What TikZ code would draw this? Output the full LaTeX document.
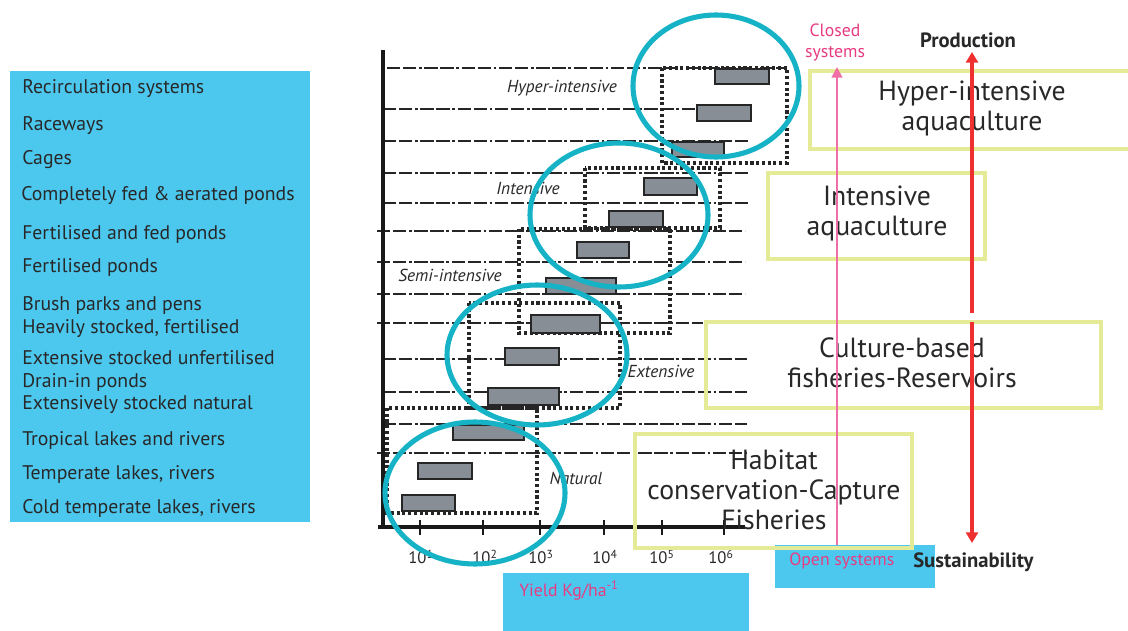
\documentclass[tikz,border=0pt]{standalone}
\usepackage{fontspec}
\setmainfont{PT Sans}
\usetikzlibrary{arrows.meta}
\definecolor{skyb}{RGB}{76,200,239}
\definecolor{cyanring}{RGB}{22,178,198}
\definecolor{ybox}{RGB}{228,234,150}
\definecolor{pinkt}{RGB}{232,60,130}
\definecolor{pinkl}{RGB}{240,110,165}
\definecolor{redar}{RGB}{238,48,48}
\definecolor{barg}{RGB}{135,142,150}
\definecolor{txt}{RGB}{40,40,40}
\begin{document}
\begin{tikzpicture}[x=0.75pt,y=-0.75pt,
  listtext/.style={anchor=west,text=txt,inner sep=0pt,yshift=-1.5pt,font=\fontsize{14.8}{16}\selectfont},
  gridline/.style={draw=black!85,line width=1.2pt,dash pattern=on 10pt off 2pt on 10pt off 2pt on 2pt off 2pt},
  gridthick/.style={gridline,line width=2pt},
  dotbox/.style={draw=black!85,line width=2.3pt,dash pattern=on 2.3pt off 2pt},
  barbox/.style={fill=barg,draw=black!85,line width=1.3pt},
  ring/.style={draw=cyanring,line width=3.8pt},
  ybx/.style={draw=ybox,line width=3pt},
  bigtext/.style={text=txt,align=center,inner sep=0pt,font=\fontsize{20.8}{22.5}\selectfont},
  cat/.style={text=txt,inner sep=0pt,font=\itshape\fontsize{13}{14}\selectfont},
  ticklab/.style={text=txt,inner sep=0pt,font=\fontsize{12.5}{14}\selectfont},
  boldlab/.style={text=txt,inner sep=0pt,font=\bfseries\fontsize{15.5}{17}\selectfont},
  pinklab/.style={text=pinkt,inner sep=0pt,font=\fontsize{13.3}{15.75}\selectfont,align=center}
]
\useasboundingbox (0,0) rectangle (1128,631);
\fill[white] (0,0) rectangle (1128,631);

% left list
\fill[skyb] (10,71) rectangle (310,522);
\node[listtext] (l1) at (22,87) {Recirculation systems};
\node[listtext] (l2) at (22,124) {Raceways};
\node[listtext] (l3) at (22,158) {Cages};
\node[listtext] (l4) at (21,193) {Completely fed \& aerated ponds};
\node[listtext] (l5) at (22,232) {Fertilised and fed ponds};
\node[listtext] (l6) at (22,265) {Fertilised ponds};
\node[listtext] (l7) at (22,303) {Brush parks and pens};
\node[listtext] (l8) at (22,327) {Heavily stocked, fertilised};
\node[listtext] (l9) at (22,356) {Extensive stocked unfertilised};
\node[listtext] (l10) at (22,380) {Drain-in ponds};
\node[listtext] (l11) at (22,403) {Extensively stocked natural};
\node[listtext] (l12) at (22,438) {Tropical lakes and rivers};
\node[listtext] (l13) at (22,472) {Temperate lakes, rivers};
\node[listtext] (l14) at (22,506) {Cold temperate lakes, rivers};

% grid lines
\draw[gridline] (387,68) -- (787,68);
\draw[gridline] (383,109) -- (720,109);
\draw[gridline] (383,141) -- (748,141);
\draw[gridline] (383,173) -- (748,173);
\draw[gridline] (383,203) -- (748,203);
\draw[gridline] (377,231) -- (745,231);
\draw[gridline] (377,262) -- (745,262);
\draw[gridline] (377,294) -- (745,294);
\draw[gridline] (377,323) -- (703,323);
\draw[gridthick] (383,359) -- (747,359);
\draw[gridline] (383,392) -- (747,392);
\draw[gridline] (383,424) -- (747,424);
\draw[gridthick] (377,453) -- (747,453);

% axes
\draw[line width=2.3pt,black!90] (383,50) -- (383,527);
\draw[line width=2.3pt,black!90] (378,527) -- (745,527);
\foreach \tx in {420,483,540,604,662,724}
  \draw[line width=1.3pt,black!90] (\tx,520) -- (\tx,535);
\node[ticklab] (t1) at (421,557) {10\textsuperscript{1}};
\node[ticklab] (t2) at (485,557) {10\textsuperscript{2}};
\node[ticklab] (t3) at (541,557) {10\textsuperscript{3}};
\node[ticklab] (t4) at (605,557) {10\textsuperscript{4}};
\node[ticklab] (t5) at (662,557) {10\textsuperscript{5}};
\node[ticklab] (t6) at (721,557) {10\textsuperscript{6}};

% dotted group boxes
\draw[dotbox] (662,68) rectangle (787,163);
\draw[dotbox] (585,168) rectangle (720,228);
\draw[dotbox] (519,229) rectangle (670,333);
\draw[dotbox] (469,303) rectangle (620,408);
\draw[dotbox] (387,408) rectangle (537,513);

% bars
\draw[barbox] (715,69) rectangle (769,84);
\draw[barbox] (697,105) rectangle (751,121);
\draw[barbox] (672,142) rectangle (724,157);
\draw[barbox] (644,178) rectangle (697,195);
\draw[barbox] (609,211) rectangle (663,227);
\draw[barbox] (577,242) rectangle (629,258);
\draw[barbox] (546,278) rectangle (616,294);
\draw[barbox] (531,315) rectangle (600,333);
\draw[barbox] (505,348) rectangle (559,365);
\draw[barbox] (488,388) rectangle (559,405);
\draw[barbox] (453,425) rectangle (524,440);
\draw[barbox] (418,463) rectangle (472,479);
\draw[barbox] (402,495) rectangle (455,511);

% category labels
\node[cat] (c1) at (562,88) {Hyper-intensive};
\node[cat] (c2) at (528,188) {Intensive};
\node[cat] (c3) at (450,275) {Semi-intensive};
\node[cat] (c4) at (661,371) {Extensive};
\node[cat] (c5) at (576,478) {Natural};

% rings
\draw[ring] (716,86) ellipse [x radius=83, y radius=71];
\draw[ring] (619,215) ellipse [x radius=89, y radius=72];
\draw[ring] (537,355) ellipse [x radius=90, y radius=70];
\draw[ring] (475,493) ellipse [x radius=90, y radius=71];

% bottom blue boxes
\fill[skyb] (503,573) rectangle (749,631);
\node[pinklab,anchor=west] (yield) at (519,590) {Yield Kg/ha\textsuperscript{-1}};
\fill[skyb] (775,545) rectangle (935,588);
\node[pinklab,anchor=west] (open) at (789,561) {Open systems};

% yellow boxes
\draw[ybx] (810,71) rectangle (1140,149);
\node[bigtext] (b1) at (972,108) {Hyper-intensive\\aquaculture};
\draw[ybx] (768,173) rectangle (985,259);
\node[bigtext] (b2) at (877,213) {Intensive\\aquaculture};
\draw[ybx] (706,322) rectangle (1101,408);
\node[bigtext] (b3) at (902,363) {Culture-based\\fisheries-Reservoirs};
\draw[ybx] (635,434) rectangle (912,548);
\node[bigtext] (b4) at (774,490) {Habitat\\conservation-Capture\\Fisheries};

% labels right
\node[pinklab] (closed) at (835,43) {Closed\\systems};
\node[boldlab] (prod) at (968,40) {Production};
\node[boldlab,anchor=west] (sust) at (913,562) {Sustainability};

% arrows
\coordinate (pbot) at (837,545);
\coordinate (ptop) at (837,67);
\draw[pinkl,line width=1.5pt,-{Triangle[length=8pt,width=8pt]}] (pbot) -- (ptop);
\coordinate (rup) at (972,313);
\coordinate (rtop) at (972,52);
\coordinate (rdn) at (972,322);
\coordinate (rbot) at (972,543);
\draw[redar,line width=3pt,-{Triangle[length=8pt,width=9pt]}] (rup) -- (rtop);
\draw[redar,line width=3pt,-{Triangle[length=8pt,width=9pt]}] (rdn) -- (rbot);
\end{tikzpicture}
\end{document}
